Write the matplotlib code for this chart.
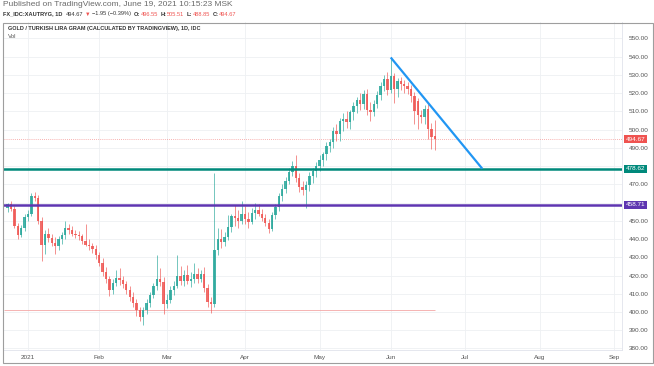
import matplotlib
matplotlib.use("Agg")
import matplotlib.pyplot as plt
from matplotlib.patches import Rectangle
import numpy as np
import pandas as pd

plt.rcParams["font.family"] = ["Liberation Sans", "DejaVu Sans"]

W, H = 654, 366

# daily OHLC, XAUTRYG, 24 Dec 2020 .. 18 Jun 2021
opens = [457.0, 459.0, 456.5, 447.0, 442.5, 446.0, 452.0, 453.5, 463.5, 462.5,
         450.0, 437.0, 443.0, 440.5, 438.0, 436.0, 440.0, 442.0, 446.0, 445.0,
         443.0, 442.5, 441.5, 439.0, 437.0, 436.0, 434.5, 431.0, 427.0, 422.0,
         418.0, 412.0, 416.0, 418.5, 417.5, 415.5, 412.0, 408.5, 405.0, 401.0,
         397.5, 401.0, 405.0, 409.5, 414.0, 418.0, 416.5, 404.5, 406.5, 412.0,
         414.5, 419.5, 417.0, 420.5, 417.0, 418.0, 421.0, 418.0, 421.0, 413.0,
         405.5, 404.5, 434.0, 440.0, 438.5, 441.0, 446.5, 452.5, 451.5, 450.0,
         454.0, 451.0, 449.5, 454.5, 456.0, 454.0, 451.5, 449.0, 445.5, 453.0,
         457.5, 463.5, 467.5, 472.0, 477.0, 480.0, 473.5, 468.5, 467.0, 469.5,
         474.5, 477.5, 480.0, 483.5, 486.5, 491.0, 493.0, 499.5, 497.5, 504.5,
         506.0, 504.0, 509.5, 513.0, 516.5, 514.0, 519.5, 511.0, 509.5, 514.0,
         519.0, 524.0, 528.0, 521.5, 529.5, 522.5, 526.5, 525.0, 524.0, 522.5,
         518.5, 515.5, 508.0, 507.0, 511.5, 500.5, 496.55]
highs = [460.0, 461.0, 458.0, 449.0, 447.5, 453.5, 456.0, 465.5, 466.0, 464.0,
         452.0, 445.0, 446.0, 443.0, 441.0, 441.5, 444.0, 450.0, 448.0, 447.0,
         445.0, 444.5, 443.0, 448.5, 440.0, 438.0, 437.0, 433.0, 429.5, 424.5,
         420.0, 418.0, 423.0, 424.0, 420.0, 417.0, 414.0, 411.0, 407.0, 403.0,
         402.5, 407.0, 411.0, 416.0, 431.0, 424.0, 419.0, 410.0, 414.0, 417.0,
         431.0, 425.0, 423.0, 426.0, 422.0, 427.0, 424.0, 423.0, 424.5, 415.5,
         408.0, 476.0, 446.0, 445.5, 444.0, 453.0, 454.0, 458.5, 456.0, 461.0,
         458.0, 455.0, 457.0, 460.0, 459.5, 456.5, 454.0, 451.0, 455.0, 459.0,
         465.0, 470.0, 474.0, 479.0, 483.0, 486.0, 476.0, 472.0, 472.0, 477.0,
         479.0, 482.5, 486.0, 488.0, 493.0, 495.0, 501.5, 503.0, 506.5, 509.0,
         510.0, 511.0, 515.0, 518.0, 520.0, 522.0, 522.5, 515.0, 516.0, 521.0,
         526.0, 530.0, 531.5, 539.6, 531.0, 528.5, 529.0, 527.5, 526.0, 524.5,
         520.5, 517.5, 511.0, 513.5, 514.0, 503.5, 505.51]
lows = [455.0, 455.5, 446.0, 440.0, 441.0, 444.5, 450.0, 452.5, 461.0, 448.5,
        428.0, 432.0, 438.5, 436.0, 432.0, 434.0, 437.5, 440.0, 443.0, 441.5,
        440.5, 439.5, 437.5, 436.0, 434.0, 432.5, 429.0, 425.0, 420.0, 416.0,
        409.0, 410.0, 414.0, 415.0, 413.0, 410.0, 406.0, 403.0, 398.0, 395.0,
        393.0, 399.0, 403.0, 407.5, 412.0, 414.5, 399.0, 402.0, 405.0, 409.5,
        413.0, 415.0, 414.0, 415.5, 413.5, 416.0, 416.0, 416.5, 411.0, 403.0,
        399.5, 402.5, 431.0, 435.0, 436.0, 439.5, 444.0, 447.0, 446.0, 448.5,
        448.0, 446.0, 448.0, 451.0, 452.5, 450.0, 447.0, 443.5, 444.5, 451.0,
        455.5, 461.0, 465.0, 470.0, 474.5, 471.5, 466.0, 464.0, 457.0, 466.5,
        471.0, 474.0, 477.5, 480.0, 483.5, 487.5, 490.0, 494.0, 494.0, 499.0,
        501.0, 500.5, 505.5, 509.0, 511.0, 511.5, 508.0, 505.0, 507.5, 512.0,
        516.5, 521.0, 519.0, 520.0, 514.5, 518.0, 521.5, 520.0, 519.5, 515.0,
        503.0, 500.5, 503.5, 503.0, 495.0, 489.5, 488.85]
closes = [459.0, 456.5, 447.0, 442.5, 446.0, 452.0, 453.5, 463.5, 462.5, 450.0,
          437.0, 443.0, 440.5, 438.0, 436.0, 440.0, 442.0, 446.0, 445.0, 443.0,
          442.5, 441.5, 439.0, 437.0, 436.0, 434.5, 431.0, 427.0, 422.0, 418.0,
          412.0, 416.0, 418.5, 417.5, 415.5, 412.0, 408.5, 405.0, 401.0, 397.5,
          401.0, 405.0, 409.5, 414.0, 418.0, 416.5, 404.5, 406.5, 412.0, 414.5,
          419.5, 417.0, 420.5, 417.0, 418.0, 421.0, 418.0, 421.0, 413.0, 405.5,
          404.5, 434.0, 440.0, 438.5, 441.0, 446.5, 452.5, 451.5, 450.0, 454.0,
          451.0, 449.5, 454.5, 456.0, 454.0, 451.5, 449.0, 445.5, 453.0, 457.5,
          463.5, 467.5, 472.0, 477.0, 480.0, 473.5, 468.5, 467.0, 469.5, 474.5,
          477.5, 480.0, 483.5, 486.5, 491.0, 493.0, 499.5, 497.5, 504.5, 506.0,
          504.0, 509.5, 513.0, 516.5, 514.0, 519.5, 511.0, 509.5, 514.0, 519.0,
          524.0, 528.0, 521.5, 529.5, 522.5, 526.5, 525.0, 524.0, 522.5, 518.5,
          510.0, 508.0, 507.0, 511.5, 500.5, 496.0, 494.67]

teal_level = 478.62
purple_level = 458.71
last_price = 494.67
old_low_level = 400.9
trend_from = ("2021-06-01", 539.6)
trend_to = ("2021-07-08", 478.62)

month_labels = ["2021", "Feb", "Mar", "Apr", "May", "Jun", "Jul", "Aug", "Sep"]
price_ticks = [550, 540, 530, 520, 510, 500, 490, 470, 450, 440, 430, 420, 410, 400, 390, 380]
grid_levels = np.arange(380, 551, 10)

up_col = "#26a69a"
dn_col = "#ef5350"

dates = pd.bdate_range(end="2021-06-18", periods=len(closes))
ext = pd.bdate_range(dates[0], "2021-09-30")
pos = {d: i for i, d in enumerate(ext)}
x = np.arange(len(closes))

month_pos = []
for m in range(1, 10):
    first = ext[(ext.year == 2021) & (ext.month == m)][0]
    month_pos.append(pos[first])

fig = plt.figure(figsize=(W / 100, H / 100), dpi=100)
px_bar = 3.39
ax = fig.add_axes([4 / W, 1 - 350 / H, 618 / W, 328 / H])
left = month_pos[0] - (28 - 4) / px_bar
ax.set_xlim(left, left + 618 / px_bar)
ppu = 310 / 170
ax.set_ylim(380 - (350 - 348.5) / ppu, 550 + (38.5 - 22) / ppu)

# grid
for p in grid_levels:
    ax.axhline(p, color="#eef0f3", lw=0.6, zorder=0)
for p in month_pos:
    ax.axvline(p, color="#eef0f3", lw=0.6, zorder=0)

# candles
o = np.array(opens)
c = np.array(closes)
cols = [up_col if cc >= oo else dn_col for oo, cc in zip(o, c)]
ax.vlines(x, lows, highs, colors=cols, lw=0.6, alpha=0.75, zorder=2)
body = np.maximum(np.abs(c - o), 0.4)
ax.bar(x, body, bottom=np.minimum(o, c), width=0.7, color=cols, alpha=0.85,
       linewidth=0, zorder=3)

# drawings
ax.axhline(last_price, color=dn_col, lw=0.6, ls=(0, (1, 1.5)), alpha=0.6, zorder=1)
ax.hlines(old_low_level, left, x[-1], color="#f4a7a6", lw=0.6, zorder=1)
ax.axhline(teal_level, color="#00897b", lw=1.8, zorder=4)
ax.axhline(purple_level, color="#5e35b1", lw=1.8, zorder=4)
t0 = pos[pd.Timestamp(trend_from[0])]
t1 = pos[pd.Timestamp(trend_to[0])]
ax.plot([t0, t1], [trend_from[1], trend_to[1]], color="#2196f3", lw=1.6,
        solid_capstyle="butt", zorder=5)

# axes
ax.yaxis.tick_right()
ax.set_yticks(price_ticks)
ax.set_yticklabels([f"{p:.2f}" for p in price_ticks])
ax.tick_params(axis="y", length=0, pad=5, labelsize=4.6, labelcolor="#555555")
ax.set_xticks(month_pos)
ax.set_xticklabels(month_labels)
ax.tick_params(axis="x", length=0, pad=3.5, labelsize=4.6, labelcolor="#555555")
for s in ["top", "left"]:
    ax.spines[s].set_visible(False)
ax.spines["right"].set_color("#e0e3eb")
ax.spines["bottom"].set_color("#e0e3eb")
ax.spines["right"].set_linewidth(0.6)
ax.spines["bottom"].set_linewidth(0.6)

# price tags
ytr = ax.get_yaxis_transform()
for val, col in [(last_price, dn_col), (teal_level, "#00897b"), (purple_level, "#5e35b1")]:
    ax.text(1.006, val, f"{val:.2f}", transform=ytr, ha="left", va="center",
            fontsize=4.6, color="white", zorder=6,
            bbox=dict(boxstyle="square,pad=0.25", fc=col, ec=col, lw=0))

# outer frame
fig.patches.append(Rectangle((2.5 / W, 1 - 362.5 / H), 650 / W, 340 / H,
                             transform=fig.transFigure, fill=False,
                             ec="#9e9e9e", lw=0.8))

# header texts
fig.canvas.draw()
rend = fig.canvas.get_renderer()


def fit_text(x0, y0, s, width, **kw):
    t = fig.text(x0 / W, 1 - y0 / H, s, fontsize=10, va="center", ha="left", **kw)
    w = t.get_window_extent(renderer=rend).width
    t.set_fontsize(10 * width / w)
    return t.get_fontsize()


fit_text(3, 5, "Published on TradingView.com, June 19, 2021 10:15:23 MSK", 229,
         color="#6a6a6a")

pieces = [("FX_IDC:XAUTRYG, 1D", "#333333", "bold"), ("494.67", "#333333", "normal"),
          ("\u25bc", dn_col, "normal"), ("\u22121.95 (\u22120.39%)", "#333333", "normal"),
          ("O:", "#333333", "bold"), ("496.55", dn_col, "normal"),
          ("H:", "#333333", "bold"), ("505.51", dn_col, "normal"),
          ("L:", "#333333", "bold"), ("488.85", dn_col, "normal"),
          ("C:", "#333333", "bold"), ("494.67", dn_col, "normal")]
gaps = [3, 2, 2, 3, 0.5, 2.5, 0.5, 2.5, 0.5, 2.5, 0.5, 0]

# measure the legend line at size 10, then scale it to the target width
texts = []
for s, col, wt in pieces:
    texts.append(fig.text(0, 1 - 14 / H, s, fontsize=10, color=col, fontweight=wt,
                          va="center", ha="left"))
widths = [t.get_window_extent(renderer=rend).width for t in texts]
scale = (233 - sum(gaps)) / sum(widths)
xx = 3
for t, w, g in zip(texts, widths, gaps):
    t.set_fontsize(10 * scale)
    t.set_x(xx / W)
    xx += w * scale + g

fit_text(8, 28.5, "GOLD / TURKISH LIRA GRAM (CALCULATED BY TRADINGVIEW), 1D, IDC", 190,
         color="#333333", fontweight="bold")
fig.text(8 / W, 1 - 36.5 / H, "Vol", fontsize=4.4, color="#555555", va="center")

fig.savefig("out.png", dpi=100)
